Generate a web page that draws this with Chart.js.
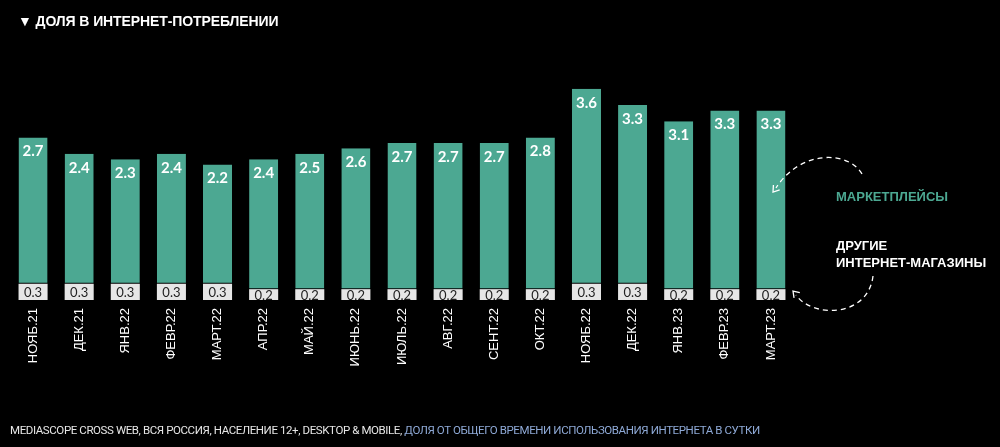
<!DOCTYPE html>
<html>
<head>
<meta charset="utf-8">
<script src="https://cdn.jsdelivr.net/npm/chart.js@4"></script>
<style>
    html, body { margin: 0; padding: 0; background: #000; }
    .wrap { position: relative; width: 1000px; height: 447px; overflow: hidden; }
    #chart { position: absolute; left: 0; top: 0; }
    .title { position: absolute; left: 18px; top: 13px; color: #fff; font: bold 14px "Liberation Sans", Arial, sans-serif; letter-spacing: -0.1px; }
    .note { position: absolute; left: 836px; font: bold 13px "Liberation Sans", Arial, sans-serif; line-height: 17px; }
    .note.green { top: 188px; color: #4ca892; }
    .note.white { top: 237px; color: #fff; }
    .footer { position: absolute; left: 10px; top: 423px; font: 11.5px Roboto, sans-serif; color: #e6e6e6; letter-spacing: -0.4px; white-space: nowrap; }
    .footer span { color: #8ea9d6; }
</style>
</head>
<body>
<div class="wrap">
    <canvas id="chart" width="1000" height="447"></canvas>
    <div class="title">▼ ДОЛЯ В ИНТЕРНЕТ-ПОТРЕБЛЕНИИ</div>
    <div class="note green">МАРКЕТПЛЕЙСЫ</div>
    <div class="note white">ДРУГИЕ<br>ИНТЕРНЕТ-МАГАЗИНЫ</div>
    <div class="footer">MEDIASCOPE CROSS WEB, ВСЯ РОССИЯ, НАСЕЛЕНИЕ 12+, DESKTOP &amp; MOBILE, <span>ДОЛЯ ОТ ОБЩЕГО ВРЕМЕНИ ИСПОЛЬЗОВАНИЯ ИНТЕРНЕТА В СУТКИ</span></div>
</div>
<script>
const months = ['НОЯБ.21', 'ДЕК.21', 'ЯНВ.22', 'ФЕВР.22', 'МАРТ.22', 'АПР.22', 'МАЙ.22', 'ИЮНЬ.22',
    'ИЮЛЬ.22', 'АВГ.22', 'СЕНТ.22', 'ОКТ.22', 'НОЯБ.22', 'ДЕК.22', 'ЯНВ.23', 'ФЕВР.23', 'МАРТ.23'];
const marketplaces = [2.7, 2.4, 2.3, 2.4, 2.2, 2.4, 2.5, 2.6, 2.7, 2.7, 2.7, 2.8, 3.6, 3.3, 3.1, 3.3, 3.3];
const otherShops = [0.3, 0.3, 0.3, 0.3, 0.3, 0.2, 0.2, 0.2, 0.2, 0.2, 0.2, 0.2, 0.3, 0.3, 0.2, 0.2, 0.2];

const GREEN = '#4ca892';
const GRAY = '#e6e6e6';

// value labels inside the bars
const barValues = {
    id: 'barValues',
    afterDatasetsDraw(chart) {
        const ctx = chart.ctx;
        ctx.save();
        ctx.textAlign = 'center';
        ctx.textBaseline = 'middle';
        chart.getDatasetMeta(0).data.forEach((bar, i) => {
            ctx.fillStyle = '#222';
            ctx.font = '13px Lato, sans-serif';
            ctx.fillText(otherShops[i].toFixed(1), bar.x, (bar.y + bar.base) / 2 + 1);
        });
        chart.getDatasetMeta(1).data.forEach((bar, i) => {
            ctx.fillStyle = '#fff';
            ctx.font = 'bold 15px Lato, sans-serif';
            ctx.fillText(marketplaces[i].toFixed(1), bar.x, bar.y + 14);
        });
        ctx.restore();
    }
};

// dashed arrows pointing at the legend notes
const arrows = {
    id: 'arrows',
    afterDraw(chart) {
        const ctx = chart.ctx;
        ctx.save();
        ctx.strokeStyle = '#fff';
        ctx.lineWidth = 1.3;
        ctx.setLineDash([5, 4]);

        ctx.beginPath();
        ctx.moveTo(862, 174);
        ctx.bezierCurveTo(848, 150, 800, 150, 776, 188);
        ctx.stroke();

        ctx.beginPath();
        ctx.moveTo(873, 276);
        ctx.bezierCurveTo(868, 318, 812, 318, 796, 295);
        ctx.stroke();

        ctx.setLineDash([]);
        drawHead(ctx, 773, 192, Math.atan2(188 - 170, 776 - 790));
        drawHead(ctx, 793, 291, Math.atan2(291 - 305, 793 - 806));
        ctx.restore();
    }
};

function drawHead(ctx, x, y, angle) {
    const len = 7;
    ctx.beginPath();
    ctx.moveTo(x - len * Math.cos(angle - 0.6), y - len * Math.sin(angle - 0.6));
    ctx.lineTo(x, y);
    ctx.lineTo(x - len * Math.cos(angle + 0.6), y - len * Math.sin(angle + 0.6));
    ctx.stroke();
}

new Chart(document.getElementById('chart'), {
    type: 'bar',
    data: {
        labels: months,
        datasets: [{
            label: 'Другие интернет-магазины',
            data: otherShops,
            backgroundColor: GRAY,
            borderWidth: 0,
            barPercentage: 0.63,
            categoryPercentage: 1
        }, {
            label: 'Маркетплейсы',
            data: marketplaces,
            backgroundColor: GREEN,
            borderColor: '#000',
            borderWidth: { bottom: 1 },
            borderSkipped: false,
            barPercentage: 0.63,
            categoryPercentage: 1
        }]
    },
    options: {
        responsive: false,
        animation: false,
        layout: { padding: { left: 10, right: 206, top: 40, bottom: 0 } },
        plugins: {
            legend: { display: false },
            tooltip: { enabled: false }
        },
        scales: {
            x: {
                stacked: true,
                grid: { display: false, drawTicks: false },
                border: { display: false },
                ticks: {
                    color: '#fff',
                    font: { family: 'Liberation Sans', size: 13 },
                    minRotation: 90,
                    maxRotation: 90,
                    autoSkip: false,
                    padding: 8
                },
                afterFit(scale) { scale.height = 147; }
            },
            y: {
                stacked: true,
                display: false,
                min: 0,
                max: 4.8
            }
        }
    },
    plugins: [barValues, arrows]
});
</script>
</body>
</html>
